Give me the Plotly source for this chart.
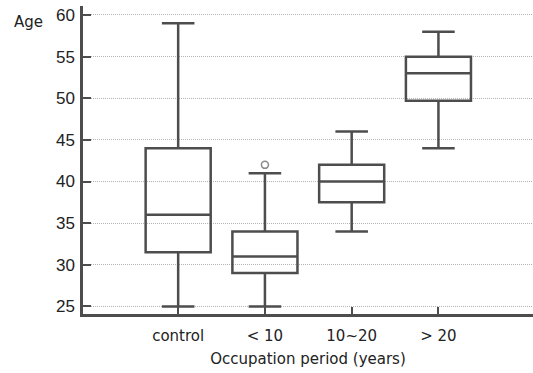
import plotly.graph_objects as go

categories = ["control", "< 10", "10~20", "> 20"]
lower_whisker = [25, 25, 34, 44]
q1_vals = [31.5, 29, 37.5, 49.7]
medians = [36, 31, 40, 53]
q3_vals = [44, 34, 42, 55]
upper_whisker = [59, 41, 46, 58]
outlier_cats = ["< 10"]
outlier_vals = [42]
y_ticks = [25, 30, 35, 40, 45, 50, 55, 60]

LINE = "#4d4d4d"
TXT_FONT = "DejaVu Sans"
fig = go.Figure()
for i, c in enumerate(categories):
    fig.add_trace(go.Box(
        x=[c], q1=[q1_vals[i]], median=[medians[i]], q3=[q3_vals[i]],
        lowerfence=[lower_whisker[i]], upperfence=[upper_whisker[i]],
        line=dict(color=LINE, width=2.5), fillcolor="rgba(255,255,255,0)",
        width=0.75, whiskerwidth=0.5, boxpoints=False, showlegend=False,
        hoverinfo="skip",
    ))

fig.add_trace(go.Scatter(
    x=outlier_cats, y=outlier_vals, mode="markers",
    marker=dict(symbol="circle-open", size=7, color="#8a8a8a", line=dict(width=1.5)),
    showlegend=False, hoverinfo="skip",
))

fig.update_layout(
    width=533, height=373,
    margin=dict(l=83, r=0, t=6, b=59),
    plot_bgcolor="white", paper_bgcolor="white",
    font=dict(family="Liberation Sans, Arial", color="#222"),
    xaxis=dict(
        type="category", categoryorder="array", categoryarray=categories,
        range=[-1.097, 4.09], showline=True, linecolor=LINE, linewidth=2.5,
        ticks="inside", ticklen=7, tickwidth=2, tickcolor=LINE,
        showgrid=False, zeroline=False, ticklabelstandoff=6,
        tickfont=dict(size=15, family=TXT_FONT, color="#222"),
        title=dict(text="Occupation period (years)", standoff=10,
                   font=dict(size=15, family=TXT_FONT, color="#222")),
    ),
    yaxis=dict(
        range=[24.09, 61.08], tickvals=y_ticks,
        showline=True, linecolor=LINE, linewidth=2.5,
        ticks="inside", ticklen=8, tickwidth=2, tickcolor=LINE,
        showgrid=True, gridcolor="#b4b4b4", gridwidth=1, griddash="1px,1px",
        zeroline=False, tickfont=dict(size=17, color="#222"),
        ticklabelstandoff=2,
    ),
    annotations=[dict(text="Age", xref="paper", yref="paper", x=-0.121, y=0.948,
                      xanchor="center", yanchor="middle", showarrow=False,
                      font=dict(size=15, family=TXT_FONT, color="#222"))],
)

fig.write_html("out.html")
